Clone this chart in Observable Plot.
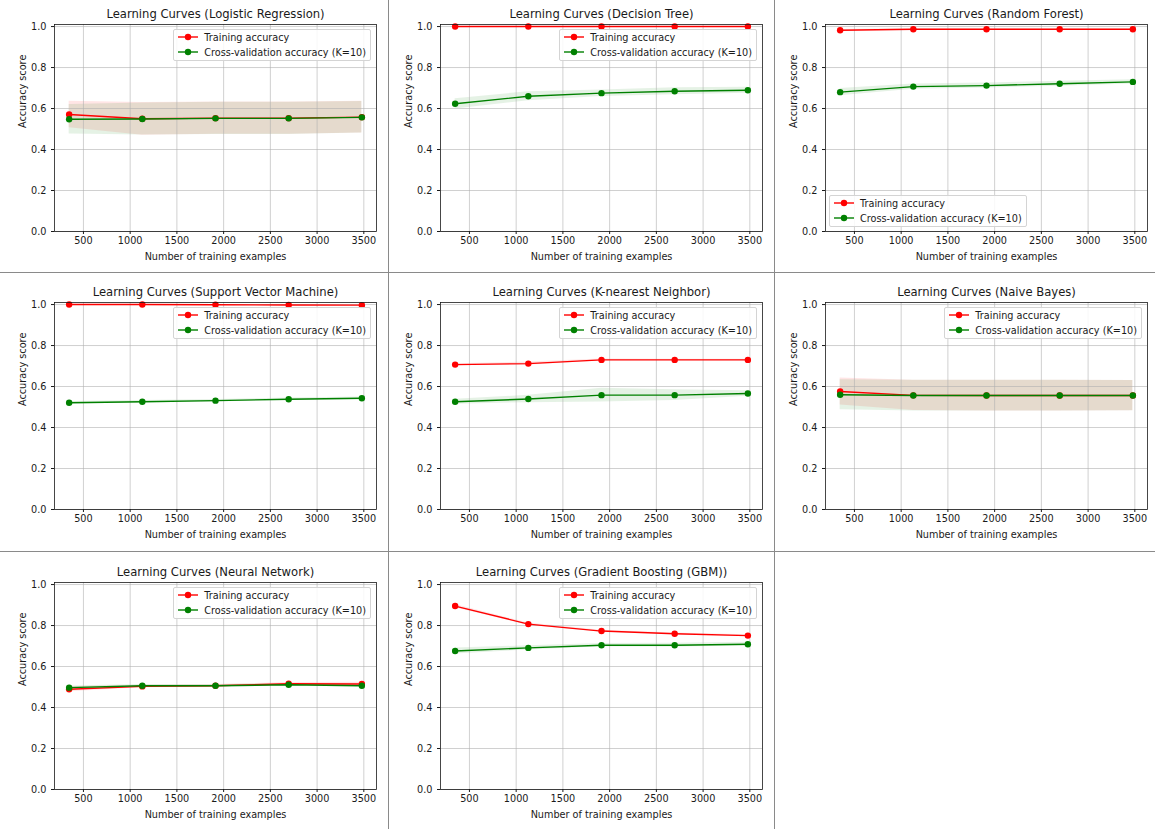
<!DOCTYPE html>
<html>
<head>
<meta charset="utf-8">
<script src="https://cdn.jsdelivr.net/npm/d3@7"></script>
<script src="https://cdn.jsdelivr.net/npm/@observablehq/plot@0.6"></script>
<style>
  html, body { margin: 0; padding: 0; background: #fff; }
  #grid { position: relative; width: 1155px; height: 829px; overflow: hidden; font-family: "DejaVu Sans", sans-serif; }
  .cell { position: absolute; width: 388px; height: 272px; }
  .cell svg { display: block; max-width: none !important; }
  .sep { position: absolute; background: #8a8a8a; z-index: 5; }
  .legend { position: absolute; z-index: 4; box-sizing: border-box; padding: 0 4px 0 4px;
            border: 1px solid #d4d4d4; border-radius: 2px; background: rgba(255,255,255,0.85);
            font: 9.7px "DejaVu Sans", sans-serif; color: #1a1a1a; }
  .legend .row { height: 15px; display: flex; align-items: center; white-space: nowrap; }
  .legend svg { margin-right: 6.5px; flex: none; }
</style>
</head>
<body>
<div id="grid"></div>
<script>
// ---- data ----
const sizes = [347, 1130, 1913, 2696, 3479];
const models = [
  "Logistic Regression", "Decision Tree", "Random Forest",
  "Support Vector Machine", "K-nearest Neighbor", "Naive Bayes",
  "Neural Network", "Gradient Boosting (GBM)"
];
const trainMean = [
  [0.571, 0.550, 0.553, 0.553, 0.558],
  [1.000, 1.000, 1.000, 1.000, 1.000],
  [0.982, 0.987, 0.987, 0.987, 0.987],
  [1.000, 1.000, 0.999, 0.998, 0.997],
  [0.707, 0.712, 0.730, 0.730, 0.730],
  [0.576, 0.557, 0.556, 0.556, 0.556],
  [0.489, 0.503, 0.506, 0.516, 0.515],
  [0.895, 0.807, 0.773, 0.760, 0.751]
];
const trainStd = [
  [0.065, 0.080, 0.079, 0.079, 0.077],
  [0.000, 0.000, 0.000, 0.000, 0.000],
  [0.003, 0.002, 0.002, 0.002, 0.002],
  [0.001, 0.001, 0.001, 0.001, 0.001],
  [0.004, 0.008, 0.004, 0.003, 0.003],
  [0.066, 0.074, 0.075, 0.075, 0.074],
  [0.012, 0.006, 0.006, 0.006, 0.008],
  [0.008, 0.006, 0.004, 0.004, 0.004]
];
const cvMean = [
  [0.548, 0.549, 0.552, 0.552, 0.557],
  [0.623, 0.660, 0.675, 0.684, 0.689],
  [0.680, 0.707, 0.712, 0.721, 0.730],
  [0.521, 0.526, 0.531, 0.538, 0.543],
  [0.526, 0.539, 0.558, 0.558, 0.566],
  [0.560, 0.556, 0.556, 0.556, 0.556],
  [0.497, 0.506, 0.506, 0.511, 0.506],
  [0.676, 0.691, 0.704, 0.704, 0.709]
];
const cvStd = [
  [0.072, 0.078, 0.079, 0.079, 0.077],
  [0.025, 0.022, 0.016, 0.017, 0.015],
  [0.018, 0.013, 0.012, 0.012, 0.010],
  [0.006, 0.006, 0.006, 0.006, 0.006],
  [0.012, 0.018, 0.034, 0.026, 0.014],
  [0.073, 0.075, 0.075, 0.075, 0.074],
  [0.008, 0.006, 0.006, 0.006, 0.006],
  [0.015, 0.010, 0.008, 0.009, 0.009]
];
const legendCorner = ["top-right", "top-right", "bottom-left", "top-right", "top-right", "top-right", "top-right", "top-right"];
const seriesLabels = ["Training accuracy", "Cross-validation accuracy (K=10)"];
const seriesColors = ["red", "green"];
const xTicks = [500, 1000, 1500, 2000, 2500, 3000, 3500];
const yTicks = [0, 0.2, 0.4, 0.6, 0.8, 1.0];
const xLabel = "Number of training examples";
const yLabel = "Accuracy score";

// ---- layout ----
const W = 388, H = 272, ML = 54, MR = 12, MT = 24, MB = 41;
const FW = W - ML - MR, FH = H - MT - MB;
const colLeft = [0, 386, 771];
const rowTop = [0, 278, 558];
const grid = document.getElementById("grid");

// x domain with matplotlib's 5% margins around the data
const xSpan = sizes[sizes.length - 1] - sizes[0];
const xDomain = [sizes[0] - 0.05 * xSpan, sizes[sizes.length - 1] + 0.05 * xSpan];

models.forEach((name, i) => {
  const tr = sizes.map((s, j) => ({size: s, mean: trainMean[i][j], std: trainStd[i][j]}));
  const cv = sizes.map((s, j) => ({size: s, mean: cvMean[i][j], std: cvStd[i][j]}));
  const chart = Plot.plot({
    width: W, height: H,
    marginLeft: ML, marginRight: MR, marginTop: MT, marginBottom: MB,
    style: {fontFamily: '"DejaVu Sans", sans-serif', fontSize: "9.7px", color: "#1a1a1a", background: "transparent", overflow: "visible"},
    x: {domain: xDomain},
    y: {domain: [0, 1.01]},
    marks: [
      Plot.areaY(tr, {x: "size", y1: d => d.mean - d.std, y2: d => d.mean + d.std, fill: seriesColors[0], fillOpacity: 0.1}),
      Plot.areaY(cv, {x: "size", y1: d => d.mean - d.std, y2: d => d.mean + d.std, fill: seriesColors[1], fillOpacity: 0.1}),
      Plot.gridX(xTicks, {stroke: "#b0b0b0", strokeOpacity: 0.85, strokeWidth: 0.7}),
      Plot.gridY(yTicks, {stroke: "#b0b0b0", strokeOpacity: 0.85, strokeWidth: 0.7}),
      Plot.line(tr, {x: "size", y: "mean", stroke: seriesColors[0], strokeWidth: 1.4}),
      Plot.dot(tr, {x: "size", y: "mean", fill: seriesColors[0], r: 3.2}),
      Plot.line(cv, {x: "size", y: "mean", stroke: seriesColors[1], strokeWidth: 1.4}),
      Plot.dot(cv, {x: "size", y: "mean", fill: seriesColors[1], r: 3.2}),
      Plot.frame({stroke: "#1a1a1a", strokeWidth: 0.8}),
      Plot.axisX(xTicks, {tickSize: 3, tickPadding: 3, tickFormat: d => String(d), label: null}),
      Plot.axisY(yTicks, {tickSize: 3, tickPadding: 5, tickFormat: d3.format(".1f"), label: null}),
      Plot.text([`Learning Curves (${name})`], {text: d => d, frameAnchor: "top", dy: -10.5, fontSize: 11.6, lineAnchor: "middle"}),
      Plot.text([xLabel], {text: d => d, frameAnchor: "bottom", dy: 25, lineAnchor: "middle"}),
      Plot.text([yLabel], {text: d => d, frameAnchor: "left", dx: -32, rotate: -90, lineAnchor: "middle"})
    ]
  });
  const c = i % 3, r = Math.floor(i / 3);
  const cell = document.createElement("div");
  cell.className = "cell";
  cell.style.left = colLeft[c] + "px";
  cell.style.top = rowTop[r] + "px";
  cell.appendChild(chart);
  grid.appendChild(cell);

  // legend (matplotlib style, line + marker swatch)
  const lg = document.createElement("div");
  lg.className = "legend";
  seriesLabels.forEach((lab, k) => {
    const row = document.createElement("div");
    row.className = "row";
    const sw = d3.create("svg").attr("width", 20).attr("height", 8);
    sw.append("line").attr("x1", 0).attr("x2", 20).attr("y1", 4).attr("y2", 4)
      .attr("stroke", seriesColors[k]).attr("stroke-width", 1.4);
    sw.append("circle").attr("cx", 10).attr("cy", 4).attr("r", 3.2).attr("fill", seriesColors[k]);
    row.appendChild(sw.node());
    const sp = document.createElement("span");
    sp.textContent = lab;
    row.appendChild(sp);
    lg.appendChild(row);
  });
  const fx0 = colLeft[c] + ML, fy0 = rowTop[r] + MT;
  if (legendCorner[i] === "bottom-left") {
    lg.style.left = (fx0 + 3.5) + "px";
    lg.style.top = (fy0 + FH - 5.5 - 31) + "px";
  } else {
    lg.style.right = (1155 - (fx0 + FW - 5)) + "px";
    lg.style.top = (fy0 + 4.5) + "px";
  }
  grid.appendChild(lg);
});

// cell separators
[[388, 0, 1, 829], [774, 0, 1, 829], [0, 272, 1155, 1], [0, 551, 1155, 1]].forEach(([x, y, w, h]) => {
  const s = document.createElement("div");
  s.className = "sep";
  s.style.left = x + "px"; s.style.top = y + "px";
  s.style.width = w + "px"; s.style.height = h + "px";
  grid.appendChild(s);
});
</script>
</body>
</html>
